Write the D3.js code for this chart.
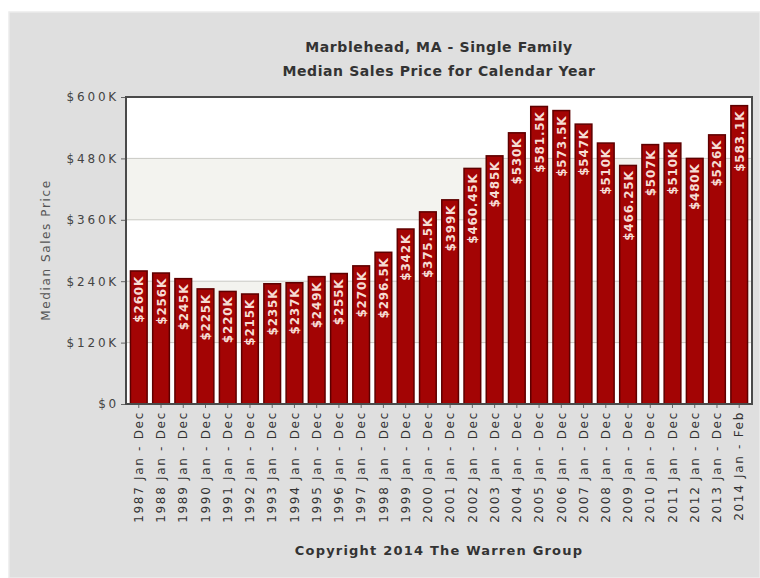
<!DOCTYPE html>
<html><head><meta charset="utf-8">
<script src="https://cdn.jsdelivr.net/npm/d3@7"></script>
<style>body{margin:0;background:#fff}svg{display:block}</style>
</head><body><svg id="c" width="760" height="578"></svg>
<script>
const categories = ["1987 Jan - Dec","1988 Jan - Dec","1989 Jan - Dec","1990 Jan - Dec","1991 Jan - Dec","1992 Jan - Dec","1993 Jan - Dec","1994 Jan - Dec","1995 Jan - Dec","1996 Jan - Dec","1997 Jan - Dec","1998 Jan - Dec","1999 Jan - Dec","2000 Jan - Dec","2001 Jan - Dec","2002 Jan - Dec","2003 Jan - Dec","2004 Jan - Dec","2005 Jan - Dec","2006 Jan - Dec","2007 Jan - Dec","2008 Jan - Dec","2009 Jan - Dec","2010 Jan - Dec","2011 Jan - Dec","2012 Jan - Dec","2013 Jan - Dec","2014 Jan - Feb"];
const values = [260000,256000,245000,225000,220000,215000,235000,237000,249000,255000,270000,296500,342000,375500,399000,460450,485000,530000,581500,573500,547000,510000,466250,507000,510000,480000,526000,583100];
const valueLabels = ["$260K","$256K","$245K","$225K","$220K","$215K","$235K","$237K","$249K","$255K","$270K","$296.5K","$342K","$375.5K","$399K","$460.45K","$485K","$530K","$581.5K","$573.5K","$547K","$510K","$466.25K","$507K","$510K","$480K","$526K","$583.1K"];
const yTicks = [0,120000,240000,360000,480000,600000];
const yTickLabels = ["$0","$120K","$240K","$360K","$480K","$600K"];
const titleLines = ["Marblehead, MA - Single Family","Median Sales Price for Calendar Year"];
const yTitle = "Median Sales Price";
const footer = "Copyright 2014 The Warren Group";

const svg = d3.select("#c");
const L=126, R=752, T=97, B=404;
svg.append("rect").attr("x",9).attr("y",12).attr("width",751).attr("height",566).attr("fill","#dfdfdf").attr("stroke","#ececec").attr("stroke-width",1.5);

const x = d3.scaleBand().domain(categories).range([L,R]).paddingInner(0.25).paddingOuter(0.2);
const y = d3.scaleLinear().domain([0,600000]).range([B,T]);

svg.append("rect").attr("x",L).attr("y",T).attr("width",R-L).attr("height",B-T).attr("fill","#fff");
for (let i=0;i<yTicks.length-1;i++){
  if (i%2===1) svg.append("rect").attr("x",L).attr("y",y(yTicks[i+1])).attr("width",R-L).attr("height",y(yTicks[i])-y(yTicks[i+1])).attr("fill","#f3f3ef");
}
svg.append("g").selectAll("line").data(yTicks.slice(1,-1)).join("line")
  .attr("x1",L).attr("x2",R).attr("y1",d=>y(d)).attr("y2",d=>y(d)).attr("stroke","#c9c9c4").attr("stroke-width",1);

svg.append("g").selectAll("rect").data(values).join("rect")
  .attr("x",(d,i)=>x(categories[i])).attr("y",d=>y(d))
  .attr("width",x.bandwidth()).attr("height",d=>B-y(d))
  .attr("fill","#a30404").attr("stroke","#5e0000").attr("stroke-width",1.5);

svg.append("g").selectAll("text").data(values).join("text")
  .attr("transform",(d,i)=>`translate(${x(categories[i])+x.bandwidth()/2+4.5},${y(d)+5}) rotate(-90)`)
  .attr("text-anchor","end")
  .attr("font-family","DejaVu Sans, Verdana, sans-serif").attr("font-weight","bold").attr("font-size","12px")
  .attr("letter-spacing","0.8px")
  .attr("fill","#f6dcd4")
  .text((d,i)=>valueLabels[i]);

svg.append("rect").attr("x",L).attr("y",T).attr("width",R-L).attr("height",B-T).attr("fill","none").attr("stroke","#4a4a4a").attr("stroke-width",2);

const yAxis = d3.axisLeft(y).tickValues(yTicks).tickFormat((d,i)=>yTickLabels[i]).tickSize(4).tickPadding(2);
const ga = svg.append("g").attr("transform",`translate(${L-1},0)`).call(yAxis);
ga.select(".domain").remove();
ga.selectAll("line").attr("stroke","#666");
ga.selectAll("text").attr("font-family","DejaVu Sans, Verdana, sans-serif").attr("font-size","12px").attr("letter-spacing","2.8px").attr("fill","#444");

const xAxis = d3.axisBottom(x).tickSize(3).tickPadding(4);
const gx = svg.append("g").attr("transform",`translate(0,${B+1})`).call(xAxis);
gx.select(".domain").remove();
gx.selectAll("line").attr("stroke","#666");
gx.selectAll("text")
  .attr("font-family","DejaVu Sans, Verdana, sans-serif").attr("font-size","12px").attr("letter-spacing","1.7px").attr("fill","#333")
  .attr("transform","rotate(-90)").attr("text-anchor","end").attr("x",-6).attr("y",0).attr("dy","0.35em");

svg.append("g").selectAll("text").data(titleLines).join("text")
  .attr("x",(L+R)/2).attr("y",(d,i)=>52+i*24).attr("text-anchor","middle")
  .attr("font-family","DejaVu Sans, Verdana, sans-serif").attr("font-weight","bold").attr("font-size","14px").attr("letter-spacing","0.6px").attr("fill","#333")
  .text(d=>d);

svg.append("text").attr("transform","translate(50,250) rotate(-90)").attr("text-anchor","middle")
  .attr("font-family","DejaVu Sans, Verdana, sans-serif").attr("font-size","12px").attr("letter-spacing","1.6px").attr("fill","#555").text(yTitle);

svg.append("text").attr("x",(L+R)/2).attr("y",555).attr("text-anchor","middle")
  .attr("font-family","DejaVu Sans, Verdana, sans-serif").attr("font-weight","bold").attr("font-size","13px").attr("letter-spacing","1.2px").attr("fill","#333").text(footer);
</script></body></html>
